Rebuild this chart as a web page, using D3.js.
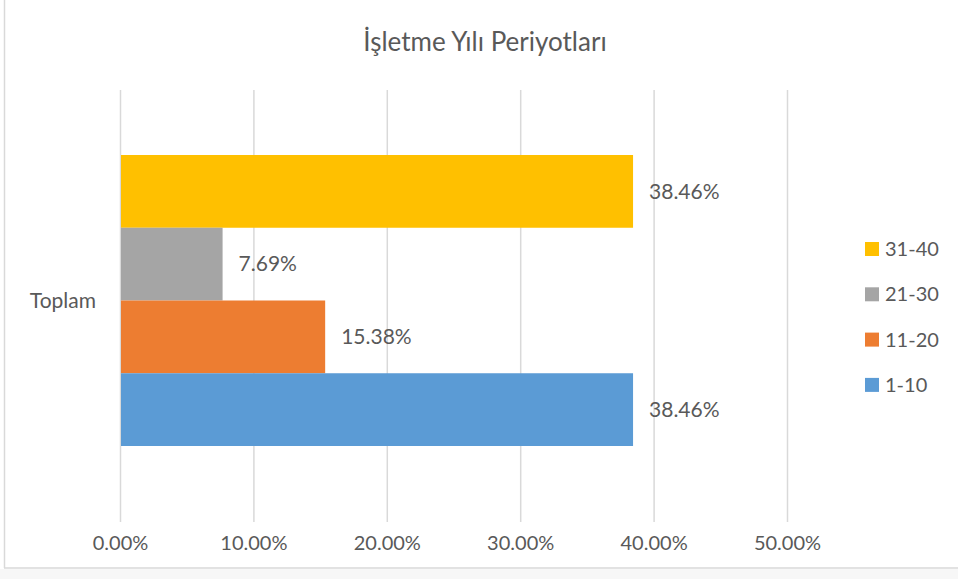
<!DOCTYPE html>
<html>
<head>
<meta charset="utf-8">
<script src="https://cdn.jsdelivr.net/npm/d3@7"></script>
<style>
  body { margin: 0; background: #fff; }
  text { font-family: Lato, "Open Sans", sans-serif; fill: #595959; }
</style>
</head>
<body>
<svg id="chart" width="958" height="579"></svg>
<script>
// series, top to bottom as drawn
var SERIES = ["31-40", "21-30", "11-20", "1-10"];
var VALUES = [0.3846, 0.0769, 0.1538, 0.3846];
var COLORS = ["#FFC000", "#A5A5A5", "#ED7D31", "#5B9BD5"];
var CATEGORY = "Toplam";
var X_TICKS = [0, 0.1, 0.2, 0.3, 0.4, 0.5];
var TITLE = "İşletme Yılı Periyotları";

var svg = d3.select("#chart");

// chart frame (left and bottom edges visible)
svg.append("rect").attr("x", 0).attr("y", 569).attr("width", 958).attr("height", 10).attr("fill", "#f7f7f7");
svg.append("line").attr("x1", 4.5).attr("x2", 4.5).attr("y1", 0).attr("y2", 568)
  .attr("stroke", "#d9d9d9").attr("stroke-width", 1.5);
svg.append("line").attr("x1", 4).attr("x2", 958).attr("y1", 568).attr("y2", 568)
  .attr("stroke", "#d9d9d9").attr("stroke-width", 1.5);

var plot = { left: 120, right: 787, top: 90, bottom: 522 };

var x = d3.scaleLinear().domain([0, 0.5]).range([plot.left, plot.right]);
var y = d3.scaleBand().domain(SERIES).range([155, 446]).padding(0);

// title
svg.append("text")
  .attr("x", 485).attr("y", 51)
  .attr("text-anchor", "middle")
  .style("font-size", "26px")
  .text(TITLE);

// gridlines + tick labels via axis
var xAxis = d3.axisBottom(x)
  .tickValues(X_TICKS)
  .tickSize(-(plot.bottom - plot.top))
  .tickPadding(14)
  .tickFormat(function(d) { return d3.format(".2f")(d * 100) + "%"; });

var gx = svg.append("g")
  .attr("transform", "translate(0," + plot.bottom + ")")
  .call(xAxis);
gx.select(".domain").remove();
gx.selectAll(".tick line").attr("stroke", "#d9d9d9").attr("stroke-width", 1.5);
gx.selectAll(".tick text")
  .style("font-size", "20px")
  .style("font-family", "Lato, 'Open Sans', sans-serif")
  .attr("fill", "#595959");

// bars
svg.selectAll(".bar")
  .data(SERIES)
  .enter()
  .append("rect")
  .attr("class", "bar")
  .attr("x", x(0) + 1)
  .attr("y", function(d) { return y(d); })
  .attr("width", function(d, i) { return x(VALUES[i]) - x(0) - 1; })
  .attr("height", y.bandwidth())
  .attr("fill", function(d, i) { return COLORS[i]; });

// data labels
svg.selectAll(".lbl")
  .data(SERIES)
  .enter()
  .append("text")
  .attr("class", "lbl")
  .attr("x", function(d, i) { return x(VALUES[i]) + 16; })
  .attr("y", function(d) { return y(d) + y.bandwidth() / 2; })
  .attr("dy", "0.35em")
  .style("font-size", "21px")
  .text(function(d, i) { return d3.format(".2f")(VALUES[i] * 100) + "%"; });

// category label
svg.append("text")
  .attr("x", 96).attr("y", (155 + 446) / 2)
  .attr("dy", "0.35em")
  .attr("text-anchor", "end")
  .style("font-size", "21px")
  .text(CATEGORY);

// legend
var legend = svg.selectAll(".leg")
  .data(SERIES)
  .enter()
  .append("g")
  .attr("class", "leg")
  .attr("transform", function(d, i) { return "translate(865," + (249 + i * 45.3) + ")"; });

legend.append("rect")
  .attr("x", 0).attr("y", -7)
  .attr("width", 14).attr("height", 14)
  .attr("fill", function(d, i) { return COLORS[i]; });

legend.append("text")
  .attr("x", 20).attr("y", 0)
  .attr("dy", "0.35em")
  .style("font-size", "20px")
  .text(function(d) { return d; });
</script>
</body>
</html>
